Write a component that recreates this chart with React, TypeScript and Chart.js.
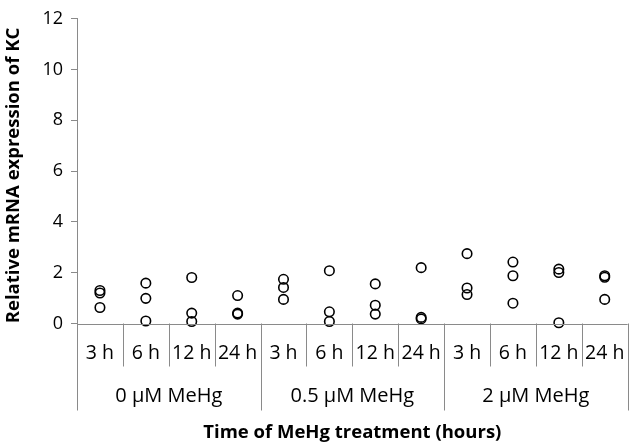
import React, { useEffect, useRef } from "react";
import { Chart, registerables } from "chart.js";

Chart.register(...registerables);

const hourLabels = ["3 h", "6 h", "12 h", "24 h"];
const doseLabels = ["0 µM MeHg", "0.5 µM MeHg", "2 µM MeHg"];
const categories = doseLabels.flatMap((d) => hourLabels.map((h) => `${d} ${h}`));

const replicate1 = [1.3, 1.59, 1.81, 1.1, 1.74, 2.08, 1.56, 2.2, 2.75, 2.42, 2.14, 1.88];
const replicate2 = [1.2, 0.99, 0.41, 0.41, 1.42, 0.46, 0.72, 0.24, 1.4, 1.88, 2.01, 1.82];
const replicate3 = [0.63, 0.1, 0.08, 0.37, 0.95, 0.08, 0.37, 0.18, 1.14, 0.8, 0.03, 0.95];

const yTicks = [0, 2, 4, 6, 8, 10, 12];

const yTitle = "Relative mRNA expression of KC";
const xTitle = "Time of MeHg treatment (hours)";

const FONT = "'Open Sans', sans-serif";
const AXIS = "#8a8a8a";

const labelsPlugin = {
  id: "multiLevelLabels",
  afterDraw(chart: any) {
    const { ctx, chartArea, scales } = chart;
    const x = scales.x;
    const n = categories.length;
    const step = x.getPixelForValue(1) - x.getPixelForValue(0);
    const bottom = chartArea.bottom;
    ctx.save();
    ctx.strokeStyle = AXIS;
    ctx.lineWidth = 1;
    ctx.beginPath();
    ctx.moveTo(chartArea.left, Math.round(bottom) + 0.5);
    ctx.lineTo(chartArea.right, Math.round(bottom) + 0.5);
    ctx.stroke();
    for (let i = 0; i <= n; i++) {
      const px = Math.round(x.getPixelForValue(0) - step / 2 + i * step) + 0.5;
      const end = i % hourLabels.length === 0 ? bottom + 87 : bottom + 43;
      ctx.beginPath();
      ctx.moveTo(px, bottom);
      ctx.lineTo(px, end);
      ctx.stroke();
    }
    ctx.fillStyle = "#000";
    ctx.textAlign = "center";
    ctx.textBaseline = "middle";
    ctx.font = `19.5px ${FONT}`;
    categories.forEach((_, i) => {
      ctx.fillText(hourLabels[i % hourLabels.length], x.getPixelForValue(i), bottom + 30);
    });
    ctx.font = `20px ${FONT}`;
    doseLabels.forEach((d, g) => {
      const c0 = x.getPixelForValue(g * hourLabels.length);
      const c1 = x.getPixelForValue(g * hourLabels.length + hourLabels.length - 1);
      ctx.fillText(d, (c0 + c1) / 2, bottom + 73);
    });
    ctx.font = `bold 18.5px ${FONT}`;
    ctx.fillText(xTitle, (chartArea.left + chartArea.right) / 2, bottom + 109);
    ctx.translate(14, 175.5);
    ctx.rotate(-Math.PI / 2);
    ctx.fillText(yTitle, 0, 0);
    ctx.restore();
  },
};

export default function App() {
  const ref = useRef<HTMLCanvasElement>(null);
  useEffect(() => {
    const mk = (data: number[]) => ({
      data,
      showLine: false,
      pointStyle: "circle",
      pointRadius: 4.75,
      pointHoverRadius: 4.75,
      pointBorderWidth: 1.6,
      pointBorderColor: "#000",
      pointBackgroundColor: "rgba(0,0,0,0)",
      clip: false,
    });
    const chart = new Chart(ref.current!, {
      type: "line",
      data: {
        labels: categories,
        datasets: [mk(replicate1), mk(replicate2), mk(replicate3)],
      },
      options: {
        animation: false,
        responsive: false,
        devicePixelRatio: 1,
        layout: { padding: { top: 12, right: 2, bottom: 0, left: 0 } },
        plugins: { legend: { display: false }, tooltip: { enabled: false } },
        scales: {
          x: {
            type: "category",
            offset: true,
            grid: { display: false },
            border: { display: false },
            ticks: { display: false },
            afterFit: (s: any) => {
              s.height = 122.5;
            },
          },
          y: {
            min: 0,
            max: 12,
            afterBuildTicks: (s: any) => {
              s.ticks = yTicks.map((v) => ({ value: v }));
            },
            ticks: { color: "#000", padding: 8, font: { family: FONT, size: 18 } },
            grid: { drawOnChartArea: false, drawTicks: true, tickLength: 6, color: AXIS },
            border: { display: true, color: AXIS },
            afterFit: (s: any) => {
              s.width = 77;
            },
          },
        },
      },
      plugins: [labelsPlugin],
    } as any);
    return () => chart.destroy();
  }, []);
  return (
    <div style={{ position: "absolute", left: 0, top: 0, width: 634, height: 446, background: "#fff" }}>
      <canvas ref={ref} width={634} height={446} />
    </div>
  );
}
